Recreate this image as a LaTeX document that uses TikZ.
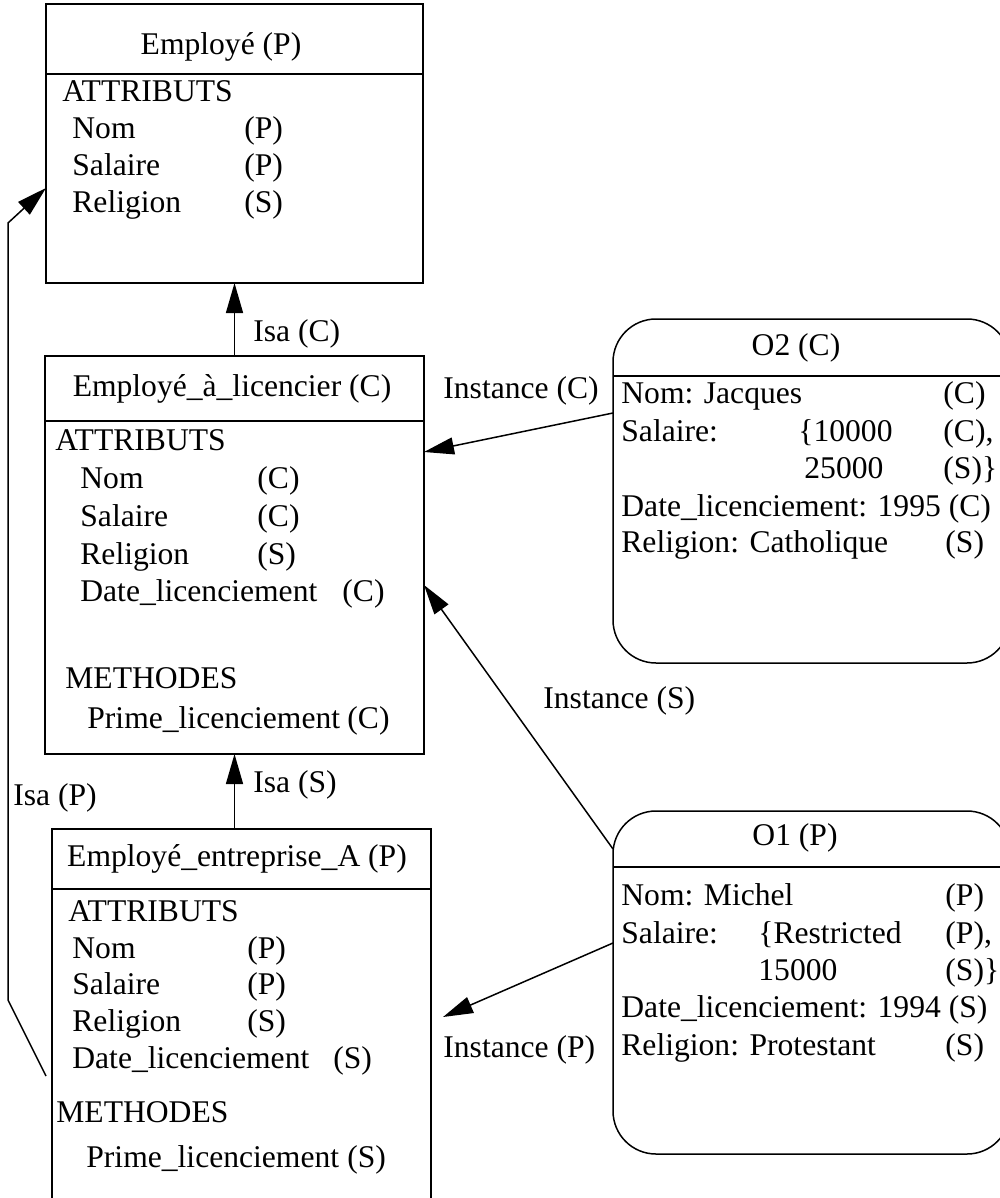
\documentclass[tikz,border=0pt]{standalone}
\usepackage{fontspec}
\setmainfont{Liberation Serif}
\usetikzlibrary{arrows.meta,calc}
\newcommand{\fsz}{\fontsize{15.8pt}{19pt}\selectfont}
\tikzset{
  box/.style={draw, line width=0.75pt, inner sep=0pt, outer sep=0pt},
  objbox/.style={box, rounded corners=21.5pt},
  txt/.style={anchor=base west, inner sep=0pt, font=\fsz},
  ttl/.style={anchor=base, inner sep=0pt, font=\fsz},
  conn/.style={line width=0.75pt},
  arr/.style={conn, -{Triangle[length=15pt,width=8.5pt]}},
}
\begin{document}
\begin{tikzpicture}[x=0.5pt,y=-0.5pt]
\useasboundingbox (0,0) rectangle (1000,1198);
% boxes
\node[box, minimum width=188.5pt, minimum height=139.5pt] (emp) at (234.5,143.5) {};
\node[box, minimum width=189.5pt, minimum height=199pt] (lic) at (234.5,555) {};
\node[box, minimum width=189.5pt, minimum height=190.5pt] (ent) at (241.5,1019.5) {};
\node[objbox, minimum width=198.5pt, minimum height=172pt] (o2) at (811.5,491) {};
\node[objbox, minimum width=198.5pt, minimum height=171.5pt] (o1) at (811.5,982.5) {};
% header lines
\draw[conn] ($(emp.north west)+(0,70)$) -- ($(emp.north east)+(0,70)$);
\draw[conn] ($(lic.north west)+(0,65)$) -- ($(lic.north east)+(0,65)$);
\draw[conn] ($(ent.north west)+(0,60)$) -- ($(ent.north east)+(0,60)$);
\draw[conn] ($(o2.north west)+(0,57)$) -- ($(o2.north east)+(0,57)$);
\draw[conn] ($(o1.north west)+(0,56)$) -- ($(o1.north east)+(0,56)$);
% Employe
\node[ttl] (empt) at (221,55) {Employé (P)};
\node[txt] (empa) at (62,102) {ATTRIBUTS};
\node[txt] (emp1) at (72,139) {Nom};
\node[txt] (emp1v) at (244,139) {(P)};
\node[txt] (emp2) at (72,176) {Salaire};
\node[txt] (emp2v) at (244,176) {(P)};
\node[txt] (emp3) at (72,213) {Religion};
\node[txt] (emp3v) at (244,213) {(S)};
% Employe a licencier
\node[ttl] (lict) at (232,396) {Employé\_à\_licencier (C)};
\node[txt] (lica) at (55,450) {ATTRIBUTS};
\node[txt] (lic1) at (80,488) {Nom};
\node[txt] (lic1v) at (257,488) {(C)};
\node[txt] (lic2) at (80,526) {Salaire};
\node[txt] (lic2v) at (257,526) {(C)};
\node[txt] (lic3) at (80,564) {Religion};
\node[txt] (lic3v) at (257,564) {(S)};
\node[txt] (lic4) at (80,601) {Date\_licenciement};
\node[txt] (lic4v) at (342,601) {(C)};
\node[txt] (licm) at (65,688) {METHODES};
\node[txt] (lic5) at (87,728) {Prime\_licenciement};
\node[txt] (lic5v) at (347,728) {(C)};
% Employe entreprise A
\node[ttl] (entt) at (237,866) {Employé\_entreprise\_A (P)};
\node[txt] (enta) at (68,921) {ATTRIBUTS};
\node[txt] (ent1) at (72,958) {Nom};
\node[txt] (ent1v) at (247,958) {(P)};
\node[txt] (ent2) at (72,994) {Salaire};
\node[txt] (ent2v) at (247,994) {(P)};
\node[txt] (ent3) at (72,1031) {Religion};
\node[txt] (ent3v) at (247,1031) {(S)};
\node[txt] (ent4) at (72,1068) {Date\_licenciement};
\node[txt] (ent4v) at (333,1068) {(S)};
\node[txt] (entm) at (56,1122) {METHODES};
\node[txt] (ent5) at (86,1167) {Prime\_licenciement};
\node[txt] (ent5v) at (347,1167) {(S)};
% O2
\node[ttl] (o2t) at (796,355) {O2 (C)};
\node[txt] (o21) at (621,403) {Nom: Jacques};
\node[txt] (o21v) at (943,403) {(C)};
\node[txt] (o22) at (621,441) {Salaire:};
\node[txt] (o22b) at (798,441) {\{10000};
\node[txt] (o22v) at (943,441) {(C),};
\node[txt] (o23b) at (804,478) {25000};
\node[txt] (o23v) at (943,478) {(S)\}};
\node[txt] (o24) at (621,516) {Date\_licenciement: 1995 (C)};
\node[txt] (o25) at (621,552) {Religion: Catholique};
\node[txt] (o25v) at (945,552) {(S)};
% O1
\node[ttl] (o1t) at (795,845) {O1 (P)};
\node[txt] (o11) at (621,905) {Nom: Michel};
\node[txt] (o11v) at (945,905) {(P)};
\node[txt] (o12) at (621,943) {Salaire:};
\node[txt] (o12b) at (758,943) {\{Restricted};
\node[txt] (o12v) at (945,943) {(P),};
\node[txt] (o13b) at (758,980) {15000};
\node[txt] (o13v) at (945,980) {(S)\}};
\node[txt] (o14) at (621,1017) {Date\_licenciement: 1994 (S)};
\node[txt] (o15) at (621,1055) {Religion: Protestant};
\node[txt] (o15v) at (945,1055) {(S)};
% connectors
\draw[arr] (lic.north) -- (emp.south);
\node[txt] (lisac) at (253,341) {Isa (C)};
\draw[arr] (ent.north -| lic.south) -- (lic.south);
\node[txt] (lisas) at (253,792) {Isa (S)};
\coordinate (ispstart) at (46,1076);
\draw[arr] (ispstart) -- (8,1000) -- (8,223) -- ($(emp.north west)+(0,184)$);
\node[txt] (lisap) at (13,805) {Isa (P)};
\draw[arr] ($(o2.north west)+(0,94)$) -- ($(lic.north east)+(0,96)$);
\node[txt] (linc) at (443,398) {Instance (C)};
\draw[arr] ($(o1.north west)+(0,38)$) -- ($(lic.north east)+(0,229)$);
\node[txt] (lins) at (543,708) {Instance (S)};
\coordinate (ipend) at (443,1017);
\draw[arr] ($(o1.north west)+(0,132)$) -- (ipend);
\node[txt] (linp) at (443,1057) {Instance (P)};
\end{tikzpicture}
\end{document}
